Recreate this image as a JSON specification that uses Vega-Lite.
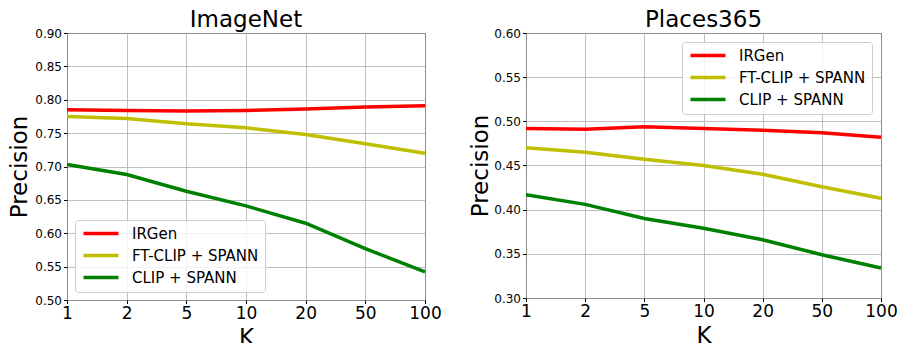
{
  "$schema": "https://vega.github.io/schema/vega-lite/v6.json",
  "padding": {"top": 8, "left": 0, "right": 0, "bottom": 0},
  "background": "white",
  "datasets": {
    "imagenet": [
      {"K": "1", "method": "IRGen", "precision": 0.785},
      {"K": "2", "method": "IRGen", "precision": 0.784},
      {"K": "5", "method": "IRGen", "precision": 0.783},
      {"K": "10", "method": "IRGen", "precision": 0.784},
      {"K": "20", "method": "IRGen", "precision": 0.786},
      {"K": "50", "method": "IRGen", "precision": 0.789},
      {"K": "100", "method": "IRGen", "precision": 0.791},
      {"K": "1", "method": "FT-CLIP + SPANN", "precision": 0.775},
      {"K": "2", "method": "FT-CLIP + SPANN", "precision": 0.772},
      {"K": "5", "method": "FT-CLIP + SPANN", "precision": 0.764},
      {"K": "10", "method": "FT-CLIP + SPANN", "precision": 0.758},
      {"K": "20", "method": "FT-CLIP + SPANN", "precision": 0.748},
      {"K": "50", "method": "FT-CLIP + SPANN", "precision": 0.734},
      {"K": "100", "method": "FT-CLIP + SPANN", "precision": 0.720},
      {"K": "1", "method": "CLIP + SPANN", "precision": 0.703},
      {"K": "2", "method": "CLIP + SPANN", "precision": 0.688},
      {"K": "5", "method": "CLIP + SPANN", "precision": 0.663},
      {"K": "10", "method": "CLIP + SPANN", "precision": 0.641},
      {"K": "20", "method": "CLIP + SPANN", "precision": 0.615},
      {"K": "50", "method": "CLIP + SPANN", "precision": 0.577},
      {"K": "100", "method": "CLIP + SPANN", "precision": 0.542}
    ],
    "places": [
      {"K": "1", "method": "IRGen", "precision": 0.492},
      {"K": "2", "method": "IRGen", "precision": 0.491},
      {"K": "5", "method": "IRGen", "precision": 0.494},
      {"K": "10", "method": "IRGen", "precision": 0.492},
      {"K": "20", "method": "IRGen", "precision": 0.490},
      {"K": "50", "method": "IRGen", "precision": 0.487},
      {"K": "100", "method": "IRGen", "precision": 0.482},
      {"K": "1", "method": "FT-CLIP + SPANN", "precision": 0.470},
      {"K": "2", "method": "FT-CLIP + SPANN", "precision": 0.465},
      {"K": "5", "method": "FT-CLIP + SPANN", "precision": 0.457},
      {"K": "10", "method": "FT-CLIP + SPANN", "precision": 0.450},
      {"K": "20", "method": "FT-CLIP + SPANN", "precision": 0.440},
      {"K": "50", "method": "FT-CLIP + SPANN", "precision": 0.426},
      {"K": "100", "method": "FT-CLIP + SPANN", "precision": 0.413},
      {"K": "1", "method": "CLIP + SPANN", "precision": 0.417},
      {"K": "2", "method": "CLIP + SPANN", "precision": 0.406},
      {"K": "5", "method": "CLIP + SPANN", "precision": 0.390},
      {"K": "10", "method": "CLIP + SPANN", "precision": 0.379},
      {"K": "20", "method": "CLIP + SPANN", "precision": 0.366},
      {"K": "50", "method": "CLIP + SPANN", "precision": 0.349},
      {"K": "100", "method": "CLIP + SPANN", "precision": 0.334}
    ]
  },
  "config": {
    "font": "DejaVu Sans",
    "view": {"stroke": "black", "strokeWidth": 1},
    "title": {"fontSize": 23, "fontWeight": "normal", "color": "black", "offset": -5},
    "axis": {
      "gridColor": "#b0b0b0",
      "gridWidth": 0.8,
      "grid": true,
      "domain": false,
      "tickColor": "black",
      "tickSize": 3.5,
      "labelColor": "black",
      "titleColor": "black",
      "titleFontWeight": "normal",
      "titleFontSize": 23
    },
    "axisX": {"labelFontSize": 17, "labelAngle": 0, "labelPadding": 2, "titlePadding": 5, "grid": true},
    "axisY": {"labelFontSize": 12, "labelPadding": 2, "minExtent": 66, "maxExtent": 66, "titleX": -36},
    "legend": {
      "title": null,
      "fillColor": "rgba(255,255,255,0.8)",
      "strokeColor": "#cccccc",
      "cornerRadius": 3,
      "padding": 6,
      "offset": 8,
      "symbolType": "M-3.5,0H3.5",
      "symbolSize": 100,
      "symbolStrokeWidth": 3.5,
      "symbolOffset": 12.5,
      "labelFontSize": 15,
      "labelColor": "black",
      "labelOffset": 23.5,
      "rowPadding": 6
    }
  },
  "spacing": 17,
  "resolve": {"scale": {"color": "independent", "y": "independent"}, "legend": {"color": "independent"}},
  "hconcat": [
    {
      "title": "ImageNet",
      "width": 358,
      "height": 267,
      "data": {"name": "imagenet"},
      "mark": {"type": "line", "strokeWidth": 3.5},
      "encoding": {
        "x": {"field": "K", "type": "ordinal", "sort": ["1", "2", "5", "10", "20", "50", "100"], "scale": {"type": "point", "padding": 0}, "title": "K"},
        "y": {"field": "precision", "type": "quantitative", "scale": {"domain": [0.5, 0.9]}, "axis": {"values": [0.5, 0.55, 0.6, 0.65, 0.7, 0.75, 0.8, 0.85, 0.9], "format": ".2f"}, "title": "Precision"},
        "color": {"field": "method", "type": "nominal", "scale": {"domain": ["IRGen", "FT-CLIP + SPANN", "CLIP + SPANN"], "range": ["#ff0000", "#bfbf00", "#008000"]}, "legend": {"orient": "bottom-left"}}
      }
    },
    {
      "title": "Places365",
      "width": 355,
      "height": 265,
      "data": {"name": "places"},
      "mark": {"type": "line", "strokeWidth": 3.5},
      "encoding": {
        "x": {"field": "K", "type": "ordinal", "sort": ["1", "2", "5", "10", "20", "50", "100"], "scale": {"type": "point", "padding": 0}, "title": "K"},
        "y": {"field": "precision", "type": "quantitative", "scale": {"domain": [0.3, 0.6]}, "axis": {"values": [0.3, 0.35, 0.4, 0.45, 0.5, 0.55, 0.6], "format": ".2f", "titleX": -34}, "title": "Precision"},
        "color": {"field": "method", "type": "nominal", "scale": {"domain": ["IRGen", "FT-CLIP + SPANN", "CLIP + SPANN"], "range": ["#ff0000", "#bfbf00", "#008000"]}, "legend": {"orient": "top-right", "offset": 9}}
      }
    }
  ]
}
